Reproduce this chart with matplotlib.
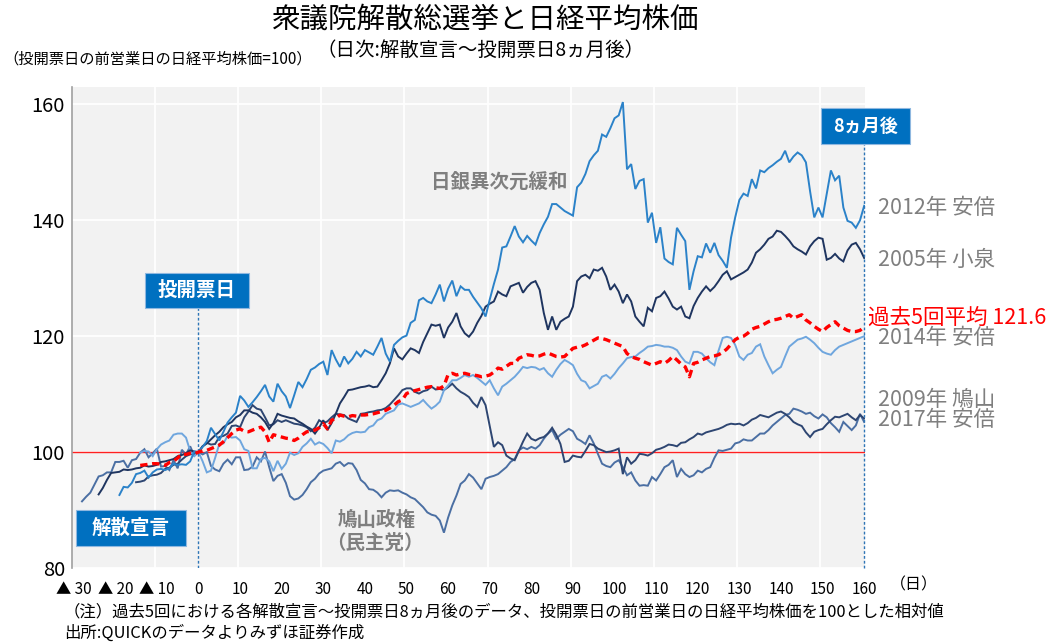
import numpy as np
import matplotlib
matplotlib.use("Agg")
import matplotlib.pyplot as plt
from matplotlib.patches import Rectangle

plt.rcParams['font.family'] = ['Noto Sans CJK JP', 'DejaVu Sans']

# ---------------- data (day 0 = election day, value = index, prev. business day = 100)
start_2012 = -19
abe_2012 = [92.6, 94.0, 93.9, 94.7, 96.2, 96.4, 96.8, 95.6, 96.5, 97.0,
            97.1, 96.9, 97.2, 98.0, 97.8, 97.9, 97.8, 98.4, 100.1, 100.0,
            100.9, 101.9, 104.2, 103.1, 102.0, 103.5, 105.1, 106.0, 106.8, 109.7,
            108.9, 107.8, 108.6, 109.5, 110.5, 111.6, 109.6, 108.7, 111.8, 110.5,
            109.6, 107.6, 109.8, 112.1, 111.2, 112.6, 114.2, 114.6, 115.2, 115.6,
            113.3, 117.6, 116.0, 114.7, 116.5, 115.3, 116.1, 117.3, 116.5, 117.6,
            117.2, 116.8, 118.2, 119.7, 117.0, 115.6, 118.5, 119.2, 119.8, 120.1,
            122.3, 122.8, 126.2, 126.6, 126.0, 125.7, 127.2, 128.9, 126.0, 128.2,
            129.6, 126.9, 128.6, 128.0, 128.0, 126.8, 125.8, 124.8, 123.4, 126.3,
            129.0, 131.5, 135.3, 135.5, 137.2, 139.0, 137.2, 136.2, 137.3, 136.5,
            135.8, 137.8, 139.3, 140.6, 142.8, 142.8, 142.2, 141.6, 141.2, 140.8,
            145.7, 146.5, 148.0, 150.2, 151.2, 152.0, 154.8, 154.4, 155.9, 157.6,
            158.1, 160.4, 148.8, 149.7, 145.4, 146.8, 147.1, 139.6, 141.3, 136.1,
            138.8, 133.4, 132.8, 132.4, 138.7, 137.5, 136.4, 128.0, 131.2, 133.8,
            133.6, 136.0, 134.4, 136.1, 134.0, 133.0, 131.8, 137.0, 140.5, 143.5,
            144.6, 144.2, 147.1, 145.5, 148.6, 148.3, 149.0, 149.5, 150.1, 150.6,
            152.0, 150.0, 151.0, 151.7, 151.2, 150.0, 145.0, 140.5, 142.2, 140.5,
            144.5, 148.6, 146.9, 147.7, 142.2, 139.9, 139.6, 138.7, 140.0, 142.5]

start_2005 = -24
koizumi_2005 = [92.7, 93.8, 95.2, 96.4, 96.5, 96.6, 97.0, 96.9, 97.0, 97.2,
                97.3, 97.7, 97.5, 97.6, 97.8, 98.3, 98.4, 98.6, 98.8, 99.3,
                99.5, 99.8, 100.3, 100.1, 100.0,
                101.0, 101.5, 102.2, 102.9, 103.5, 104.3, 104.8, 105.2, 106.0, 106.4,
                107.2, 107.2, 106.8, 106.6, 106.0, 105.2, 104.0, 105.0, 106.6, 106.3,
                106.1, 105.9, 105.8, 105.3, 104.9, 104.4, 104.0, 103.2, 104.2, 105.5,
                103.8, 105.0, 106.6, 108.4, 109.5, 110.7, 110.8, 111.0, 111.2, 111.3,
                111.5, 111.2, 111.3, 112.4, 113.6, 115.3, 117.9, 116.5, 116.0, 117.0,
                117.9, 117.6, 117.1, 119.0, 120.5, 122.0, 121.8, 122.0, 119.7, 121.5,
                122.5, 124.0, 121.7, 120.5, 119.9, 120.8, 122.3, 123.5, 125.1, 125.6,
                126.0, 127.7, 127.2, 126.9, 128.6, 128.9, 129.2, 127.5, 128.5, 129.2,
                129.5, 128.0, 124.0, 121.1, 123.4, 121.1, 122.5, 123.0, 123.4, 125.1,
                129.5, 130.3, 130.6, 130.0, 131.5, 131.3, 131.8, 130.3, 128.0, 128.9,
                127.7, 125.7, 127.2, 126.0, 123.4, 122.5, 121.7, 124.9, 124.3, 126.6,
                126.9, 127.7, 126.5, 125.1, 124.6, 125.1, 123.4, 123.1, 125.2, 126.6,
                127.7, 128.6, 127.8, 128.5, 129.5, 130.6, 131.2, 129.8, 130.2, 130.6,
                131.0, 131.5, 132.7, 134.4, 135.0, 135.8, 136.8, 137.2, 138.2, 138.0,
                137.3, 136.5, 135.5, 135.0, 134.6, 134.1, 135.5, 136.4, 137.0, 136.8,
                133.2, 133.5, 134.2, 133.4, 132.9, 134.8, 135.8, 136.1, 135.0, 133.5]

start_2017 = -15
abe_2017 = [94.8, 94.9, 95.1, 95.8, 96.0, 96.1, 96.4, 97.1, 97.3, 97.8,
            98.0, 98.7, 99.3, 99.6, 99.7, 100.0,
            101.0, 101.6, 101.3, 101.4, 102.6, 102.8, 103.2, 104.5, 104.6, 104.3,
            106.0, 107.0, 108.1, 107.5, 107.3, 106.0, 104.6, 104.8, 105.5, 105.2,
            105.5, 105.2, 104.9, 104.8, 104.6, 104.3, 103.6, 104.2, 105.5, 105.0,
            105.3, 106.0, 106.6, 106.5, 106.4, 105.8, 105.5, 105.2, 106.6, 106.7,
            106.9, 107.0, 107.2, 107.3, 107.6, 108.2, 109.0, 109.8, 110.7, 111.0,
            111.0, 110.4, 110.1, 110.5, 110.7, 111.3, 110.8, 110.9, 110.7, 111.2,
            111.8, 111.0, 110.4, 110.0, 109.5, 108.5, 107.8, 109.5, 108.1, 104.5,
            100.9, 101.7, 101.2, 99.4, 98.9, 98.6, 100.2, 101.8, 103.2, 102.3,
            102.0, 102.4, 102.6, 103.2, 104.2, 103.0, 101.4, 98.3, 98.5, 99.4,
            99.2, 99.1, 100.2, 101.4, 101.2, 100.6, 100.3, 100.0, 100.1, 100.3,
            100.6, 96.2, 99.1, 98.0, 98.6, 99.7, 99.6, 99.4, 99.8, 100.4,
            100.6, 100.9, 101.3, 101.2, 101.0, 101.6, 101.7, 102.2, 102.6, 103.2,
            103.0, 103.4, 103.6, 103.8, 104.0, 104.3, 104.7, 104.9, 104.8, 104.9,
            104.6, 105.0, 105.6, 105.9, 106.4, 106.2, 106.0, 106.4, 106.8, 107.0,
            106.6, 106.0, 105.2, 104.8, 104.5, 103.4, 102.6, 103.5, 103.8, 104.0,
            104.8, 105.5, 106.1, 106.0, 106.3, 106.6, 106.0, 105.5, 106.4, 105.8]

start_2009 = -28
hatoyama_2009 = [91.5, 92.3, 93.0, 94.4, 95.8, 96.0, 96.5, 96.5, 98.3, 98.3,
                 98.5, 97.3, 98.6, 98.8, 99.9, 100.5, 99.1, 99.8, 100.6, 97.5,
                 97.6, 96.9, 98.6, 97.2, 100.4, 99.6, 101.0, 99.4, 100.0,
                 99.6, 100.0, 97.6, 97.0, 96.7, 98.0, 98.7, 97.9, 99.1, 99.1,
                 96.9, 97.0, 97.5, 99.1, 98.4, 100.1, 97.4, 95.0, 95.9, 96.2,
                 94.7, 92.4, 91.8, 92.0, 92.6, 93.6, 94.8, 95.4, 96.3, 96.8,
                 97.0, 97.2, 98.0, 98.3, 97.6, 98.1, 98.0, 96.9, 95.2, 94.6,
                 93.6, 93.5, 93.0, 92.2, 93.0, 93.4, 93.3, 93.4, 93.0, 92.7,
                 92.2, 91.9, 91.2, 90.5, 89.6, 89.2, 89.0, 88.2, 86.1, 88.7,
                 90.8, 92.5, 94.5, 95.1, 96.2, 95.6, 94.6, 93.6, 95.4, 95.7,
                 95.9, 96.2, 96.8, 97.4, 98.3, 98.8, 100.3, 100.8, 100.5, 100.9,
                 100.6, 101.2, 102.3, 103.2, 103.8, 102.3, 103.0, 103.5, 104.0, 103.6,
                 102.3, 101.9, 101.4, 102.9, 101.5, 99.7, 98.0, 97.6, 97.4, 98.2,
                 98.6, 97.4, 96.0, 96.5, 95.1, 94.2, 94.3, 94.2, 95.7, 95.1,
                 96.2, 97.4, 97.8, 98.6, 95.7, 97.1, 96.2, 95.7, 96.0, 96.8,
                 96.5, 97.1, 97.4, 99.0, 100.3, 100.2, 100.4, 100.6, 101.5, 101.7,
                 102.2, 102.0, 102.0, 102.6, 103.2, 103.2, 103.8, 104.6, 105.2, 105.8,
                 106.4, 106.6, 107.5, 107.3, 107.0, 106.6, 106.8, 106.2, 105.8, 106.5,
                 106.0, 105.0, 104.3, 103.5, 105.2, 104.5, 103.8, 104.6, 106.6, 105.2]

start_2014 = -14
abe_2014 = [99.9, 100.2, 100.1, 99.3, 100.5, 101.3, 101.7, 102.0, 103.0, 103.2,
            103.2, 102.5, 100.2, 99.3, 100.0,
            98.4, 96.5, 96.8, 99.0, 101.4, 101.5, 102.8, 102.5, 102.6, 102.0,
            100.5, 100.2, 97.2, 97.2, 98.8, 99.0, 98.4, 96.7, 98.5, 97.1,
            98.0, 99.9, 99.5, 99.8, 100.9, 101.5, 102.3, 101.3, 101.7, 101.4,
            100.7, 99.8, 102.0, 101.8, 102.2, 102.9, 103.3, 103.5, 103.4, 103.5,
            104.3, 104.6, 105.5, 105.8, 106.6, 106.9, 107.2, 108.2, 108.4, 108.1,
            107.8, 108.1, 108.4, 109.0, 108.2, 107.5, 108.0, 108.7, 110.7, 111.5,
            112.4, 112.4, 112.8, 113.3, 113.0, 113.3, 112.8, 112.2, 111.6, 112.4,
            111.0, 109.8, 111.3, 111.8, 112.4, 113.0, 113.8, 114.7, 114.5, 114.7,
            114.6, 114.2, 114.5, 113.6, 113.0, 114.2, 115.2, 115.9, 115.5, 115.0,
            113.5, 112.4, 112.1, 111.0, 111.4, 111.8, 113.0, 113.3, 112.7, 113.5,
            114.5, 115.3, 116.2, 116.4, 116.5, 117.1, 117.6, 118.2, 118.3, 118.5,
            118.4, 118.2, 118.2, 118.0, 117.6, 116.5, 115.6, 115.3, 117.3, 117.3,
            117.0, 116.2, 115.5, 115.0, 117.5, 119.7, 119.9, 119.7, 118.5, 116.5,
            115.9, 116.8, 117.1, 118.2, 118.6, 116.5, 115.0, 113.6, 114.2, 114.7,
            116.5, 118.2, 118.8, 119.4, 119.6, 119.9, 119.4, 118.8, 118.0, 117.3,
            117.0, 116.8, 117.6, 118.2, 118.5, 118.8, 119.1, 119.4, 119.7, 120.0]

start_avg = -14
average5 = [97.7, 97.8, 97.9, 98.0, 98.0, 97.9, 97.7, 98.2, 98.4, 99.0,
            99.7, 99.6, 99.8, 99.7, 100.0,
            100.2, 100.3, 100.6, 100.9, 101.2, 101.8, 102.5, 103.2, 103.8, 104.0,
            103.6, 103.5, 103.8, 104.1, 104.3, 103.5, 101.7, 103.0, 102.8, 102.6,
            102.4, 102.3, 102.0, 102.4, 103.0, 103.5, 103.6, 103.8, 104.2, 104.9,
            104.0, 105.5, 105.8, 106.4, 106.2, 106.1, 106.3, 106.2, 106.4, 106.4,
            106.5, 106.6, 106.8, 107.0, 107.2, 107.6, 108.1, 108.7, 109.0, 110.1,
            110.4, 110.6, 110.8, 111.0, 111.2, 111.3, 111.1, 111.0, 111.4, 113.4,
            113.6, 113.3, 113.5, 113.6, 113.4, 113.3, 113.2, 113.0, 113.1, 113.3,
            113.8, 114.5, 114.3, 114.8, 115.3, 115.3, 116.2, 116.5, 116.8, 116.7,
            116.5, 116.6, 116.9, 117.1, 116.8, 116.5, 116.4, 116.5, 117.2, 117.9,
            118.1, 118.2, 118.5, 118.9, 119.3, 119.7, 119.6, 119.4, 119.1, 118.8,
            118.5, 118.2, 117.0, 116.5, 116.2, 116.0, 115.6, 115.3, 115.0, 115.3,
            115.6, 115.3, 115.8, 116.5, 115.9, 115.2, 114.7, 113.0, 115.3, 115.5,
            115.9, 116.2, 116.5, 116.6, 116.8, 117.2, 117.8, 118.6, 119.4, 119.8,
            120.0, 120.5, 121.2, 121.5, 121.7, 122.1, 122.5, 122.8, 122.9, 123.1,
            123.4, 123.7, 123.1, 123.4, 123.7, 122.8, 122.3, 121.7, 121.2, 120.8,
            121.5, 122.0, 122.5, 121.8, 121.4, 121.0, 120.8, 120.8, 121.0, 121.6]

x_ticks = [-30, -20, -10, 0, 10, 20, 30, 40, 50, 60, 70, 80, 90, 100, 110, 120, 130, 140, 150, 160]
x_tick_labels = ['▲ 30', '▲ 20', '▲ 10', '0', '10', '20', '30', '40', '50', '60', '70', '80',
                 '90', '100', '110', '120', '130', '140', '150', '160']
y_ticks = [80, 100, 120, 140, 160]

series = [
    (start_2009, hatoyama_2009, '#4B6FA3', 1.4),
    (start_2017, abe_2017, '#2E4672', 1.4),
    (start_2014, abe_2014, '#6FA6DE', 1.4),
    (start_2005, koizumi_2005, '#1F3560', 1.4),
    (start_2012, abe_2012, '#2B82C9', 1.4),
]

W, H = 1054, 643
fig = plt.figure(figsize=(W / 100, H / 100), dpi=100)
L, R, T, B = 72, 865, 87, 568
ax = fig.add_axes([L / W, 1 - B / H, (R - L) / W, (B - T) / H])
ax.set_facecolor('#F2F2F2')
ax.set_xlim(-30.4, 160.2)
ax.set_ylim(80, 163)

# grid
for gx in np.arange(-10.5, 160, 20):
    ax.axvline(gx, color='white', lw=1.3, zorder=1)
for gy in y_ticks:
    ax.axhline(gy, color='white', lw=1.3, zorder=1)

ax.axhline(100, color='#FF2020', lw=1.0, zorder=2)

for st, vals, col, lw in series:
    d = st + np.arange(len(vals))
    ax.plot(d, vals, color=col, lw=lw, zorder=3, solid_joinstyle='miter')

d = start_avg + np.arange(len(average5))
ax.plot(d, average5, color='#FF0000', lw=2.4, ls=(0, (2.2, 1.4)), zorder=5)

# vertical marker lines
ax.axvline(0, ymin=0, ymax=(B - 308) / (B - T), color='#2E75B6', lw=1.0, ls=(0, (2, 1.5)), zorder=4)
ax.axvline(160, ymin=0, ymax=(B - 144) / (B - T), color='#2E75B6', lw=1.0, ls=(0, (2, 1.5)),
           zorder=4, clip_on=False)

for s in ['top', 'right', 'bottom']:
    ax.spines[s].set_visible(False)
ax.spines['left'].set_color('#A0A0A0')
ax.spines['left'].set_linewidth(1.2)

ax.set_xticks(x_ticks)
ax.set_xticklabels(x_tick_labels, fontsize=11)
ax.set_yticks(y_ticks)
ax.set_yticklabels([str(v) for v in y_ticks], fontsize=14.5)
ax.tick_params(axis='both', length=0)
ax.tick_params(axis='x', pad=9)
ax.tick_params(axis='y', pad=5)


def fx(px):
    return px / W


def fy(py):
    return 1 - py / H


def box(x0, y0, x1, y1, label, size):
    fig.add_artist(Rectangle((fx(x0), fy(y1)), (x1 - x0) / W, (y1 - y0) / H,
                             transform=fig.transFigure, facecolor='#0070C0',
                             edgecolor='#8FB8E0', lw=0.8, zorder=10))
    fig.text(fx((x0 + x1) / 2), fy((y0 + y1) / 2), label, color='white', fontsize=size,
             fontweight='bold', ha='center', va='center', zorder=11)


box(145, 273, 249, 308, '投開票日', 14)
box(76, 510, 186, 546, '解散宣言', 14)
box(821, 108, 910, 144, '8ヵ月後', 13)

# titles
fig.text(fx(485), fy(20), '衆議院解散総選挙と日経平均株価', fontsize=20.5, ha='center', va='center')
fig.text(fx(481), fy(50), '（日次:解散宣言～投開票日8ヵ月後）', fontsize=14, ha='center', va='center')
fig.text(fx(3), fy(59), '（投開票日の前営業日の日経平均株価=100）', fontsize=11, ha='left', va='center')

# annotations
gray = '#7F7F7F'
fig.text(fx(499), fy(182), '日銀異次元緩和', fontsize=14, color=gray, fontweight='bold',
         ha='center', va='center')
fig.text(fx(377), fy(520), '鳩山政権', fontsize=14, color=gray, fontweight='bold',
         ha='center', va='center')
fig.text(fx(375), fy(543), '（民主党）', fontsize=14, color=gray, fontweight='bold',
         ha='center', va='center')

labels_right = [(208, '2012年 安倍'), (260, '2005年 小泉'), (338, '2014年 安倍'),
                (400, '2009年 鳩山'), (420, '2017年 安倍')]
for py, t in labels_right:
    fig.text(fx(878), fy(py), t, fontsize=15.5, color=gray, ha='left', va='center')
fig.text(fx(868), fy(318), '過去5回平均 121.6', fontsize=15.5, color='#FF0000', ha='left', va='center')

fig.text(fx(890), fy(585), '（日）', fontsize=11.5, ha='left', va='center')

fig.text(fx(64), fy(612), '（注）過去5回における各解散宣言～投開票日8ヵ月後のデータ、投開票日の前営業日の日経平均株価を100とした相対値',
         fontsize=11.8, ha='left', va='center')
fig.text(fx(64), fy(633), '出所:QUICKのデータよりみずほ証券作成', fontsize=11.8, ha='left', va='center')

fig.savefig('out.png', dpi=100, facecolor='white')
